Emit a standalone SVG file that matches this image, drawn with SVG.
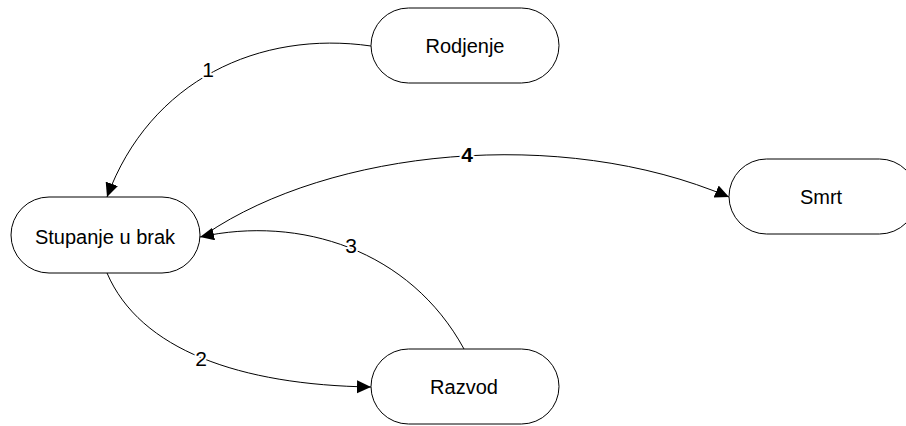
<svg xmlns="http://www.w3.org/2000/svg" width="906" height="426" viewBox="0 0 906 426">
  <style>
    .node rect { fill: #ffffff; stroke: #000000; stroke-width: 1; }
    .node text { font-family: "Liberation Sans", Arial, sans-serif; font-size: 20px; fill: #000000; text-anchor: middle; }
    .edge { fill: none; stroke: #000000; stroke-width: 1; }
    .lbl { font-family: "Liberation Sans", Arial, sans-serif; font-size: 21px; fill: #000000; text-anchor: middle;
           stroke: #ffffff; stroke-width: 4px; paint-order: stroke; stroke-linejoin: round; }
  </style>
  <defs>
    <marker id="arrow" markerUnits="userSpaceOnUse" markerWidth="16" markerHeight="14" refX="14" refY="6.5" orient="auto">
      <path d="M0,0 L14,6.5 L0,13 z" fill="#000000"/>
    </marker>
  </defs>
  <rect width="906" height="426" fill="#ffffff"/>

  <g id="connectors">
    <!-- 1: Rodjenje -> Stupanje u brak -->
    <path class="edge" d="M371,46 C260,30 150,80 107,197" marker-end="url(#arrow)"/>
    <!-- 2: Stupanje u brak -> Razvod -->
    <path class="edge" d="M107,273 C140,350 240,385 371,387" marker-end="url(#arrow)"/>
    <!-- 3: Razvod -> Stupanje u brak -->
    <path class="edge" d="M464,349 C410,250 300,215 200,237" marker-end="url(#arrow)"/>
    <!-- 4: Stupanje u brak -> Smrt -->
    <path class="edge" d="M206,234 C330,150 560,125 729,197" marker-end="url(#arrow)"/>
    <text class="lbl" x="208" y="77">1</text>
    <text class="lbl" x="201" y="366">2</text>
    <text class="lbl" x="351" y="253">3</text>
    <text class="lbl" x="467" y="162" font-weight="bold">4</text>
  </g>

  <g id="rodjenje" class="node">
    <rect x="371" y="8" width="188" height="75" rx="37.5" ry="37.5"/>
    <text x="465" y="53">Rodjenje</text>
  </g>
  <g id="stupanje" class="node">
    <rect x="11" y="197" width="189" height="76" rx="38" ry="38"/>
    <text x="105" y="244">Stupanje u brak</text>
  </g>
  <g id="razvod" class="node">
    <rect x="371" y="349" width="188" height="75" rx="37.5" ry="37.5"/>
    <text x="464" y="394">Razvod</text>
  </g>
  <g id="smrt" class="node">
    <rect x="729" y="159" width="188" height="75" rx="37.5" ry="37.5"/>
    <text x="821" y="204">Smrt</text>
  </g>
</svg>
